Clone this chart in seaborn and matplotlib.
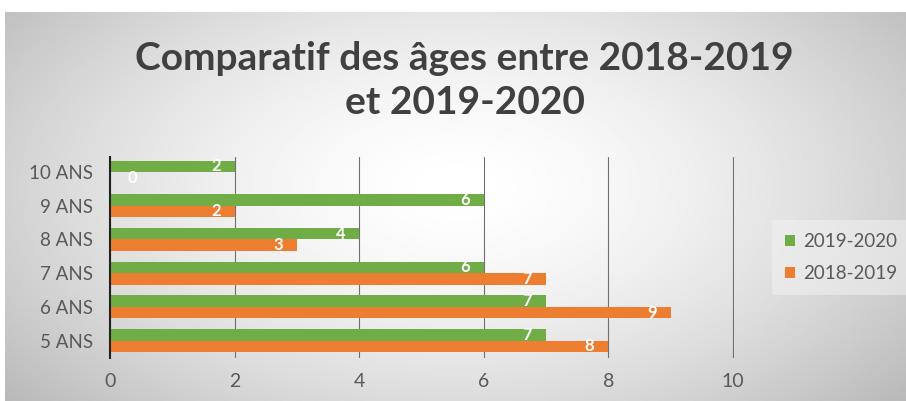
import numpy as np
import pandas as pd
import seaborn as sns
import matplotlib.pyplot as plt

ages = ["10 ANS", "9 ANS", "8 ANS", "7 ANS", "6 ANS", "5 ANS"]
annee_2019_2020 = [2, 6, 4, 6, 7, 7]
annee_2018_2019 = [0, 2, 3, 7, 9, 8]
series = ["2019-2020", "2018-2019"]

df = pd.DataFrame({
    "age": ages * 2,
    "n": annee_2019_2020 + annee_2018_2019,
    "annee": [series[0]] * len(ages) + [series[1]] * len(ages),
})

sns.set_style("white")
plt.rcParams["font.family"] = ["Lato", "DejaVu Sans"]

fig = plt.figure(figsize=(9.06, 4.01), dpi=100)

# fond dégradé gris
bg = fig.add_axes([0.006, 0, 0.994, 0.97])
yy, xx = np.mgrid[-1:1:200j, -1:1:400j]
r = np.sqrt((xx * 0.9) ** 2 + ((yy + 0.1) * 0.7) ** 2)
bg.imshow(1 - 0.21 * np.clip(r, 0, 1.3) ** 1.6, cmap="gray", vmin=0, vmax=1,
          aspect="auto", extent=[0, 1, 0, 1])
bg.axis("off")

ax = fig.add_axes([0.1214, 0.107, 0.689, 0.502])
ax.patch.set_alpha(0)
sns.barplot(data=df, y="age", x="n", hue="annee", order=ages, hue_order=series,
            palette=["#70AD47", "#ED7D31"], orient="h", width=0.68,
            saturation=1, linewidth=0, ax=ax)

for cont in ax.containers:
    vals = cont.datavalues
    ax.bar_label(cont, labels=[f"{v:.0f}" if v > 0 else "" for v in vals],
                 padding=-17, color="white", fontsize=12, fontweight="bold")
    ax.bar_label(cont, labels=[f"{v:.0f}" if v == 0 else "" for v in vals],
                 padding=13, color="white", fontsize=12, fontweight="bold")

ax.set_xlim(0, 10.02)
ax.set_xticks([0, 2, 4, 6, 8, 10])
ax.set_ylim(5.52, -0.45)
ax.grid(axis="x", color="#707070", linewidth=0.8)
ax.set_axisbelow(True)
for s in ["top", "right", "bottom"]:
    ax.spines[s].set_visible(False)
ax.spines["left"].set_color("#222222")
ax.spines["left"].set_linewidth(1.5)
ax.set_xlabel("")
ax.set_ylabel("")
ax.tick_params(axis="x", labelsize=14, colors="#595959", length=0, pad=11)
ax.tick_params(axis="y", labelsize=13.5, colors="#595959", length=0, pad=12)

leg = ax.legend(loc="center left", bbox_to_anchor=(1.045, 0.5), frameon=True,
                fontsize=13.5, handlelength=0.55, handleheight=0.55,
                handletextpad=0.4, labelspacing=0.8, borderpad=0.7)
leg.get_frame().set_facecolor("#f4f4f4")
leg.get_frame().set_edgecolor("none")
leg.get_frame().set_alpha(0.5)
for t in leg.get_texts():
    t.set_color("#595959")

fig.text(0.513, 0.80, "Comparatif des âges entre 2018-2019\net 2019-2020",
         ha="center", va="center", fontsize=28, fontweight="bold",
         color="#404040", linespacing=1.3)

fig.savefig("out.png", dpi=100)
